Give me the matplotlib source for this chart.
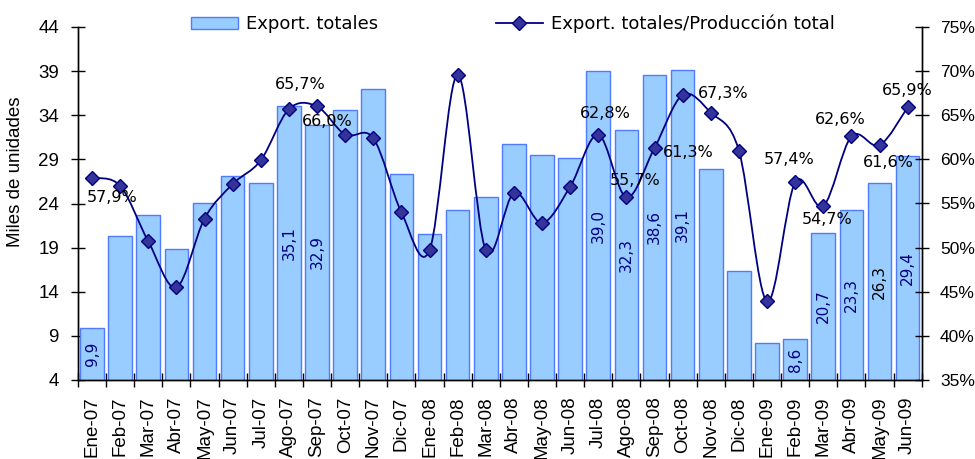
import numpy as np
import matplotlib
matplotlib.use('Agg')
import matplotlib.pyplot as plt
from matplotlib.path import Path
from matplotlib.patches import PathPatch, Patch
from matplotlib.lines import Line2D

months = ['Ene-07', 'Feb-07', 'Mar-07', 'Abr-07', 'May-07', 'Jun-07', 'Jul-07', 'Ago-07',
          'Sep-07', 'Oct-07', 'Nov-07', 'Dic-07', 'Ene-08', 'Feb-08', 'Mar-08', 'Abr-08',
          'May-08', 'Jun-08', 'Jul-08', 'Ago-08', 'Sep-08', 'Oct-08', 'Nov-08', 'Dic-08',
          'Ene-09', 'Feb-09', 'Mar-09', 'Abr-09', 'May-09', 'Jun-09']
exports = [9.9, 20.3, 22.7, 18.9, 24.1, 27.1, 26.3, 35.1, 32.9, 34.6, 37.0, 27.3,
           20.5, 23.3, 24.7, 30.7, 29.5, 29.1, 39.0, 32.3, 38.6, 39.1, 27.9, 16.3,
           8.2, 8.6, 20.7, 23.3, 26.3, 29.4]
ratio = [57.9, 57.0, 50.7, 45.5, 53.3, 57.2, 59.9, 65.7, 66.0, 62.8, 62.4, 54.0,
         49.7, 69.6, 49.7, 56.2, 52.8, 56.9, 62.8, 55.7, 61.3, 67.3, 65.3, 61.0,
         43.9, 57.4, 54.7, 62.6, 61.6, 65.9]

# bars that carry a value label (index), and label colour
bar_labels = {0: '#000080', 7: '#000080', 8: '#000080', 18: '#000080', 19: '#000080',
              20: '#000080', 21: '#000080', 25: '#000080', 26: '#000080', 27: '#000080',
              28: 'black', 29: '#000080'}
# percentage labels: index -> offset in pixels (dx, dy up)
pct_labels = {0: (20, -20), 7: (11, 25), 8: (10, -15), 18: (7, 21), 19: (9, 17),
              20: (34, -5), 21: (41, 1), 25: (-6, 23), 26: (4, -13), 27: (-11, 17),
              28: (9, -17), 29: (0, 17)}

W, H = 975, 459
fig = plt.figure(figsize=(W / 100, H / 100), dpi=100)
ax = fig.add_axes([78 / W, 1 - 380 / H, (921.7 - 78) / W, 353 / H])

tick_font = dict(family=['Liberation Sans', 'DejaVu Sans'], size=13.5)
lab_font = ['DejaVu Sans']

x = np.arange(len(months))
ax.bar(x, exports, width=0.84, color='#99CCFF', edgecolor='#4F7BFF', linewidth=1.0, zorder=2)
ax.set_xlim(-0.5, len(months) - 0.5)
ax.set_ylim(4, 44)
ax.set_yticks(range(4, 45, 5))
ax.set_xticks(x)
ax.set_xticklabels(months, rotation=90, **tick_font)
ax.set_xticks(np.arange(-0.5, len(months), 1), minor=True)
ax.tick_params(axis='x', which='major', length=0, pad=12)
ax.tick_params(axis='x', which='minor', direction='inout', length=10, width=1)
ax.tick_params(axis='y', direction='inout', length=9.5, width=1, pad=9)
for t in ax.get_yticklabels():
    t.set_fontfamily(tick_font['family'])
    t.set_fontsize(tick_font['size'])

for i, c in bar_labels.items():
    v = exports[i]
    ax.text(i, 4 + (v - 4) / 2, f'{v:.1f}'.replace('.', ','), rotation=90,
            ha='center', va='center', color=c, fontsize=11, family=lab_font, zorder=3)

ax2 = ax.twinx()
ax2.set_ylim(35, 75)
ax2.set_yticks(range(35, 76, 5))
ax2.set_yticklabels([f'{v}%' for v in range(35, 76, 5)], family=tick_font['family'], size=12.5)
ax2.tick_params(axis='y', direction='inout', length=9.5, width=1, pad=8.5)

for a in (ax, ax2):
    a.spines['top'].set_visible(False)
    for s in ('left', 'right', 'bottom'):
        a.spines[s].set_color('black')
        a.spines[s].set_linewidth(1)

# smooth line (Catmull-Rom as cubic Bezier segments through the data points)
P = np.column_stack([x, ratio]).astype(float)
Pe = np.vstack([P[0], P, P[-1]])
verts = [P[0]]
codes = [Path.MOVETO]
for i in range(len(P) - 1):
    p0, p1, p2, p3 = Pe[i], Pe[i + 1], Pe[i + 2], Pe[i + 3]
    verts += [p1 + (p2 - p0) / 6, p2 - (p3 - p1) / 6, p2]
    codes += [Path.CURVE4] * 3
ax2.add_patch(PathPatch(Path(verts, codes), fill=False, edgecolor='#000080', lw=1.3, zorder=3))
ax2.plot(x, ratio, linestyle='none', marker='D', markersize=7, markerfacecolor='#333399',
         markeredgecolor='#000080', zorder=4)

for i, (dx, dy) in pct_labels.items():
    ax2.annotate(f'{ratio[i]:.1f}%'.replace('.', ','), (x[i], ratio[i]), xytext=(dx, dy),
                 textcoords='offset pixels', ha='center', va='center', fontsize=11.5,
                 family=lab_font, color='black', zorder=5)

fig.text(16 / W, 1 - 172 / H, 'Miles de unidades', rotation=90, ha='center', va='center',
         **tick_font)

handles = [Patch(facecolor='#99CCFF', edgecolor='#4F7BFF', linewidth=1.0),
           Line2D([], [], color='#000080', lw=1.3, marker='D', markersize=7,
                  markerfacecolor='#333399', markeredgecolor='#000080')]
fig.legend(handles, ['Export. totales', 'Export. totales/Producción total'], ncol=2,
           loc='center left', bbox_to_anchor=(191 / W, 1 - 24 / H), frameon=False,
           borderpad=0, borderaxespad=0, handlelength=2.6, handletextpad=0.45,
           columnspacing=6.5, prop=dict(family=lab_font, size=13))

fig.savefig('out.png', dpi=100)
